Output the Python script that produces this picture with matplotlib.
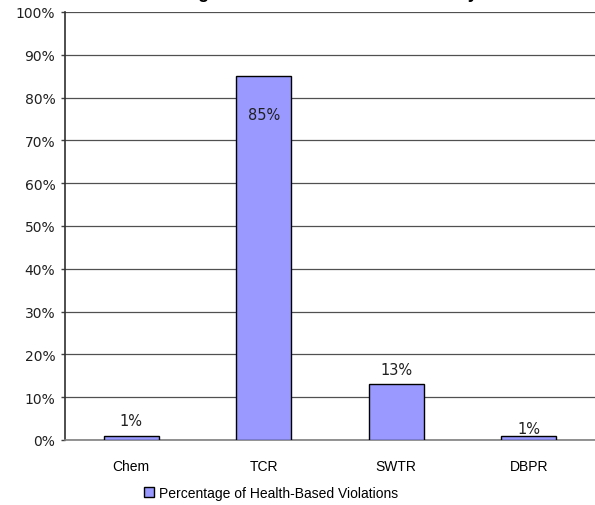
import matplotlib.pyplot as plt
import numpy as np

categories = ['Chem', 'TCR', 'SWTR', 'DBPR']
violation_pct = [0.9, 85.0, 13.2, 0.9]
bar_labels = ['1%', '85%', '13%', '1%']
title = 'Percentage of Health-Based Violations by Rule'
series_name = 'Percentage of Health-Based Violations'

narrow = ['Liberation Sans Narrow', 'Liberation Sans']

W, H = 595, 506
fig = plt.figure(figsize=(W / 100, H / 100), dpi=100)
# axes box in pixels: left 65, right 595 (clipped), top 13, bottom 441
ax = fig.add_axes([65 / W, 1 - 441 / H, (595 - 65) / W, (441 - 13) / H])

x = np.arange(len(categories))
bars = ax.bar(x, violation_pct, width=0.415, color='#9999ff', edgecolor='black',
              linewidth=1, label=series_name, zorder=3)

ax.set_xlim(-0.5, len(categories) - 0.5)
ax.set_ylim(0, 100)
ax.set_yticks(np.arange(0, 101, 10))
ax.set_yticklabels([f'{v}%' for v in range(0, 101, 10)], fontsize=10,
                   family='DejaVu Sans', color='#202020')
ax.set_xticks(x)
ax.set_xticklabels(categories, fontsize=10, family=narrow)
ax.tick_params(axis='x', length=0, pad=14)
ax.tick_params(axis='y', length=3, width=1, color='#404040', pad=4)

ax.grid(axis='y', color='#505050', linewidth=0.9, zorder=0)
for side in ['top', 'right']:
    ax.spines[side].set_visible(False)
ax.spines['left'].set_color('#303030')
ax.spines['left'].set_linewidth(1.2)
ax.spines['bottom'].set_color('#808080')
ax.spines['bottom'].set_linewidth(1.2)

# data labels: TCR sits inside the bar, the rest above
offsets = [3.6, -9, 3.2, 1.7]
for i, (val, lab) in enumerate(zip(violation_pct, bar_labels)):
    ax.text(x[i], val + offsets[i], lab, ha='center', va='center', fontsize=10.5,
            family='DejaVu Sans', color='#202020', zorder=4)

# title sits mostly above the canvas, only descenders show
fig.text(322 / W, 1 + 1.5 / H, title, ha='center', va='baseline', fontsize=13,
         fontweight='bold', family='Liberation Sans')

fig.legend(handles=[bars], labels=[series_name], loc='center',
           bbox_to_anchor=(271 / W, 1 - 494 / H), frameon=False,
           prop={'family': narrow, 'size': 10},
           handlelength=0.7, handleheight=0.7, handletextpad=0.4)

fig.savefig('out.png', dpi=100)
